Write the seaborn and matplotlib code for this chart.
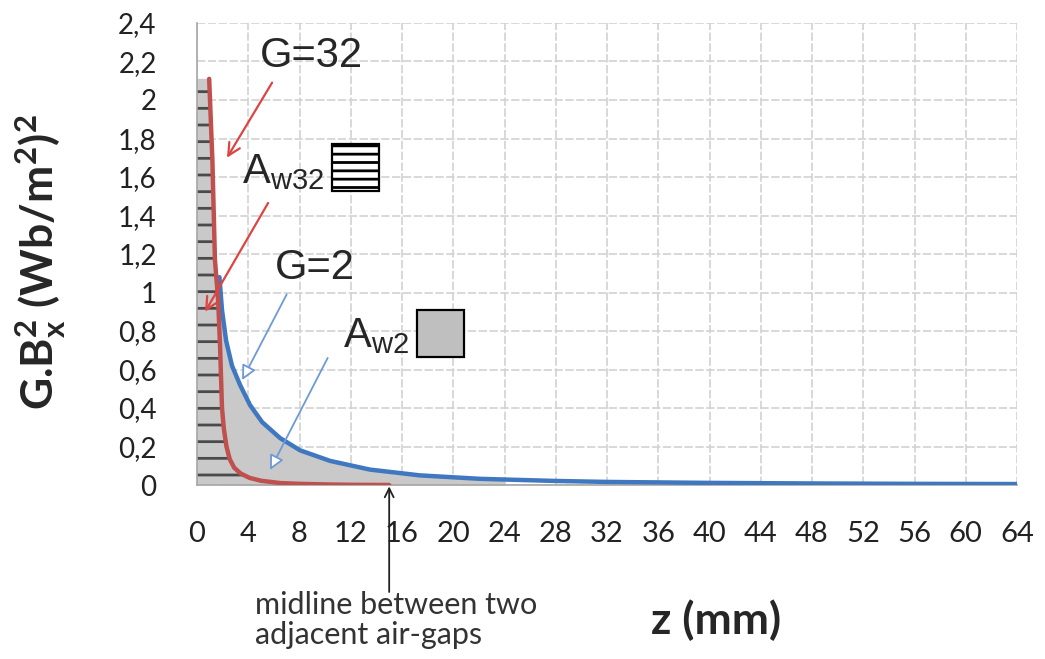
import numpy as np
import pandas as pd
import matplotlib
matplotlib.use("Agg")
import matplotlib.pyplot as plt
import seaborn as sns
from matplotlib.patches import Rectangle

# ---------------- data ----------------
red_z = [0.95, 1.2, 1.4, 1.65, 1.8, 1.95, 2.1, 2.3, 2.55, 2.9, 3.4, 4.1, 5.0, 6.5, 8.0, 10.0, 12.0, 15.0]
red_g = [2.11, 1.69, 1.17, 0.96, 0.72, 0.40, 0.29, 0.20, 0.135, 0.09, 0.06, 0.037, 0.022, 0.01,
         0.006, 0.003, 0.001, 0.0]

blue_z = [1.75, 1.95, 2.27, 2.73, 3.36, 4.14, 5.08, 6.48, 8.05, 10.4, 13.5, 17.4, 22.1,
          28.0, 32.0, 40.0, 48.0, 56.0, 64.0]
blue_g = [1.08, 0.91, 0.75, 0.62, 0.52, 0.415, 0.327, 0.244, 0.18, 0.125, 0.08, 0.05, 0.032,
          0.021, 0.016, 0.011, 0.008, 0.006, 0.005]

x_ticks = list(range(0, 65, 4))
y_ticks = [0, 0.2, 0.4, 0.6, 0.8, 1.0, 1.2, 1.4, 1.6, 1.8, 2.0, 2.2, 2.4]
y_tick_labels = ["0", "0,2", "0,4", "0,6", "0,8", "1", "1,2", "1,4", "1,6", "1,8", "2", "2,2", "2,4"]
fill_end_z = 24
midline_z = 15

# ---------------- style ----------------
sns.set_theme(style="white")
plt.rcParams['font.family'] = ['Lato', 'DejaVu Sans']
plt.rcParams['mathtext.default'] = 'regular'
plt.rcParams['hatch.linewidth'] = 2.0

W, H = 1045, 659
fig = plt.figure(figsize=(W / 100, H / 100), dpi=100)
ax = fig.add_axes([197 / W, 1 - 485 / H, 820 / W, 462 / H])


def fx(px):
    return px / W


def fy(py):
    return 1 - py / H


RED = '#c0504d'
BLUE = '#3f78c0'
GREY_FILL = '#c9c9c9'

# ---------------- fills ----------------
bz = np.array(blue_z)
bg = np.array(blue_g)
m = bz <= fill_end_z
fz = np.r_[bz[m], fill_end_z]
fg = np.r_[bg[m], np.interp(fill_end_z, bz, bg)]
ax.fill_between(fz, 0, fg, color=GREY_FILL, lw=0, zorder=1)

rz = np.r_[0.0, red_z]
rg = np.r_[red_g[0], red_g]
ax.fill_between(rz, 0, rg, facecolor=GREY_FILL, edgecolor='#4a4a4a', hatch='-', lw=0, zorder=1.5)

# ---------------- lines ----------------
df_blue = pd.DataFrame({'z': blue_z, 'g': blue_g})
df_red = pd.DataFrame({'z': red_z, 'g': red_g})
sns.lineplot(data=df_blue, x='z', y='g', color=BLUE, lw=3.2, ax=ax, sort=False,
             estimator=None, zorder=3)
sns.lineplot(data=df_red, x='z', y='g', color=RED, lw=3.2, ax=ax, sort=False,
             estimator=None, zorder=3)

# ---------------- axes ----------------
ax.set_xlim(0, 64)
ax.set_ylim(0, 2.4)
ax.set_xticks(x_ticks)
ax.set_xticklabels([str(v) for v in x_ticks])
ax.set_yticks(y_ticks)
ax.set_yticklabels(y_tick_labels)
ax.tick_params(axis='x', length=0, pad=26, labelsize=21, colors='#222222')
ax.tick_params(axis='y', length=0, pad=29, labelsize=20, colors='#222222')
ax.grid(True, color='#d2d2d2', lw=1.2, ls=(0, (5, 1.5)))
ax.set_axisbelow(True)
for s in ['top', 'right']:
    ax.spines[s].set_visible(False)
for s in ['left', 'bottom']:
    ax.spines[s].set_color('#a6a6a6')
    ax.spines[s].set_linewidth(1.2)
ax.set_xlabel('')
ax.set_ylabel('')

# ---------------- annotations ----------------
red_arrow = dict(arrowstyle='->', color='#dd4444', lw=1.6, shrinkA=0, shrinkB=0, mutation_scale=22)
blue_arrow = dict(arrowstyle='-|>', color='#6d9ad6', fc='white', lw=1.3, shrinkA=0, shrinkB=0,
                  mutation_scale=22)
ax.annotate('', xy=(2.34, 1.70), xytext=(5.86, 2.09), arrowprops=red_arrow, zorder=4)
ax.annotate('', xy=(0.63, 0.90), xytext=(5.55, 1.465), arrowprops=red_arrow, zorder=4,
            annotation_clip=False)
ax.annotate('', xy=(3.52, 0.545), xytext=(7.0, 0.99), arrowprops=blue_arrow, zorder=4)
ax.annotate('', xy=(5.7, 0.078), xytext=(10.2, 0.66), arrowprops=blue_arrow, zorder=4)

# midline arrow
ax.annotate('', xy=(midline_z, 0.0), xycoords='data',
            xytext=(midline_z, (485 - 592) / 462), textcoords=ax.get_xaxis_transform(),
            arrowprops=dict(arrowstyle='->', color='#222222', lw=1.3, shrinkA=0, shrinkB=1,
                            mutation_scale=16),
            annotation_clip=False, zorder=5)
fig.text(fx(255), fy(620), "midline between two\nadjacent air-gaps", ha='left', va='center',
         fontsize=22, linespacing=1.05, color='#333333')

ann_font = ['Liberation Sans', 'DejaVu Sans']
fig.text(fx(311), fy(56), "G=32", ha='center', va='center', fontsize=30, family=ann_font)
fig.text(fx(315), fy(268), "G=2", ha='center', va='center', fontsize=30, family=ann_font)
fig.text(fx(242), fy(183), "A$_{w32}$", ha='left', va='baseline', fontsize=30, family=ann_font)
fig.text(fx(343), fy(347), "A$_{w2}$", ha='left', va='baseline', fontsize=30, family=ann_font)

fig.patches.append(Rectangle((fx(332), fy(191)), 47 / W, 47 / H, transform=fig.transFigure,
                             facecolor='white', edgecolor='black', lw=1.6, hatch='--'))
fig.patches.append(Rectangle((fx(417), fy(357)), 47 / W, 47 / H, transform=fig.transFigure,
                             facecolor='#bfbfbf', edgecolor='black', lw=1.6))

# axis titles
fig.text(fx(716), fy(620), "z (mm)", ha='center', va='center', fontsize=32, fontweight='bold')
fig.text(fx(40), fy(262), "G.B$^2_x$ (Wb/m$^2$)$^2$", ha='center', va='center', rotation=90,
         fontsize=32, fontweight='bold')

fig.savefig('out.png', dpi=100)
